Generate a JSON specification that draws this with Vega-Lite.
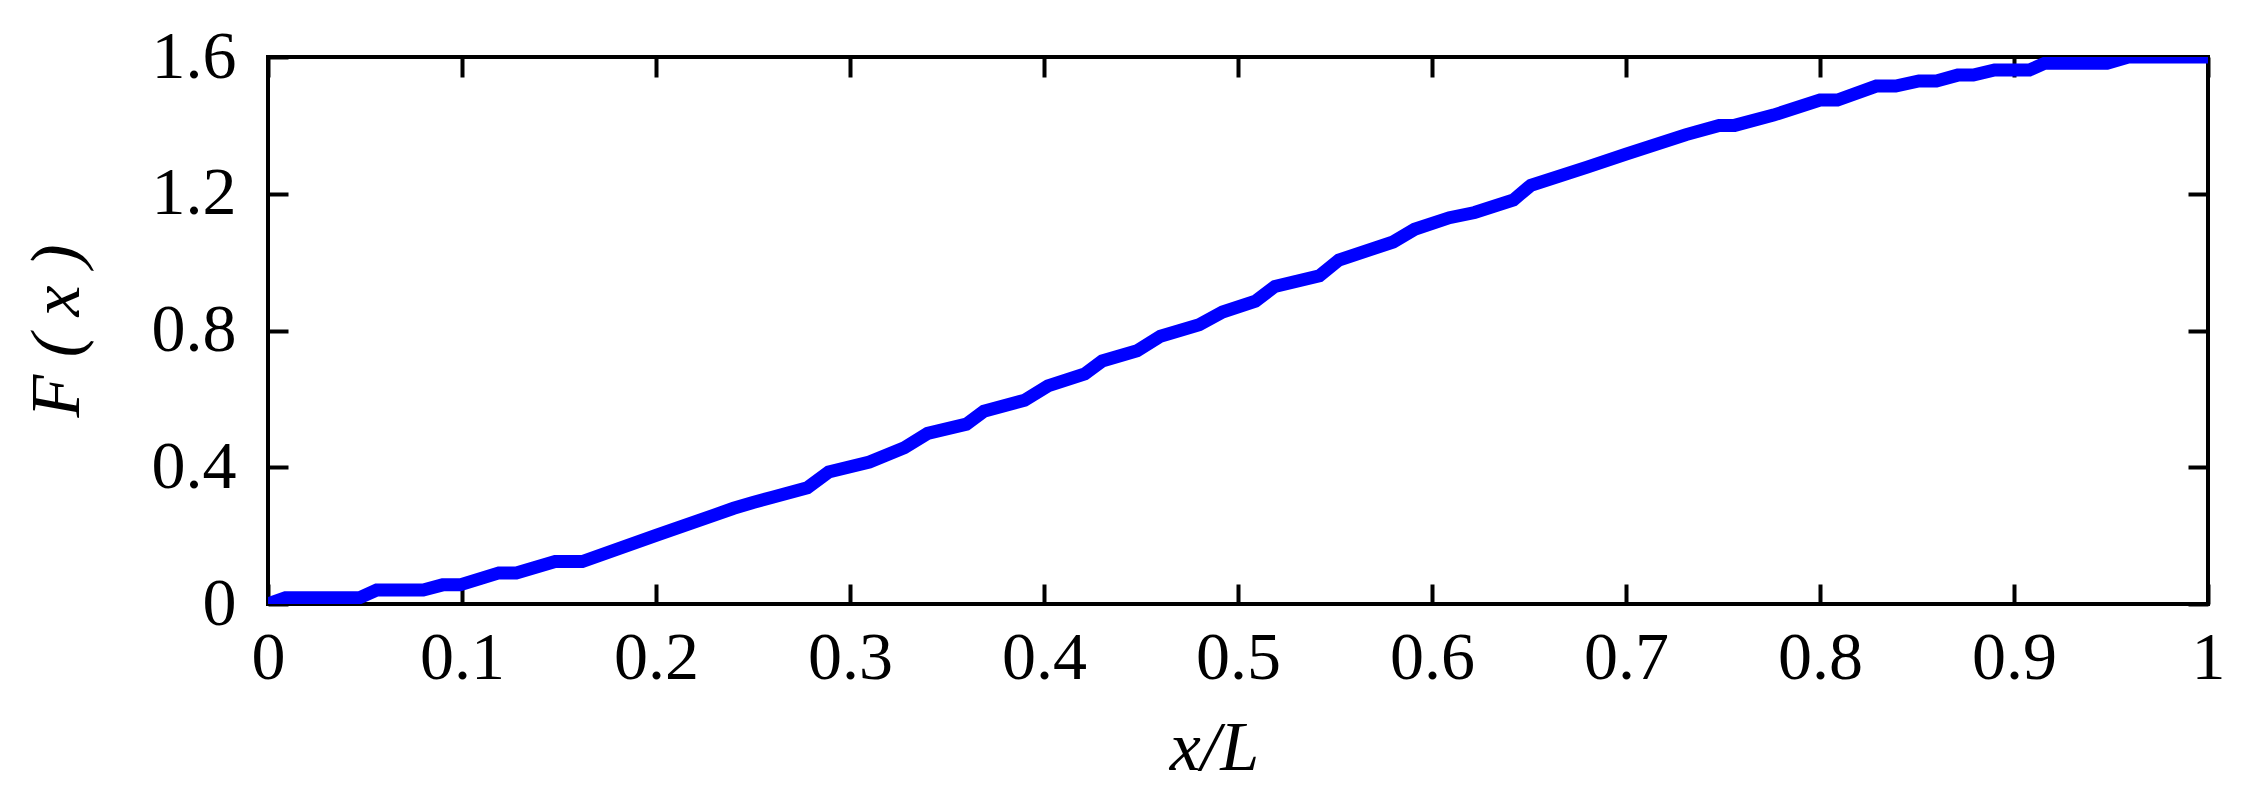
{
  "$schema": "https://vega.github.io/schema/vega-lite/v6.json",
  "autosize": {"type": "none"},
  "width": 1940,
  "height": 547,
  "padding": {"left": 268, "top": 57, "right": 39, "bottom": 204},
  "background": "white",
  "config": {
    "view": {"stroke": "black", "strokeWidth": 4},
    "axis": {
      "domain": false,
      "grid": false,
      "tickColor": "black",
      "tickWidth": 4,
      "tickSize": -20,
      "labelFlush": false,
      "labelOverlap": false,
      "labelFont": "Liberation Serif",
      "labelFontSize": 68,
      "labelColor": "black",
      "titleFont": "Liberation Serif",
      "titleFontSize": 70,
      "titleFontWeight": "normal",
      "titleFontStyle": "italic",
      "titleColor": "black"
    }
  },
  "data": {
    "values": [
      {"x": 0, "F": 0},
      {"x": 0.009, "F": 0.018},
      {"x": 0.047, "F": 0.018},
      {"x": 0.056, "F": 0.041},
      {"x": 0.08, "F": 0.041},
      {"x": 0.09, "F": 0.056},
      {"x": 0.099, "F": 0.056},
      {"x": 0.119, "F": 0.091},
      {"x": 0.128, "F": 0.091},
      {"x": 0.148, "F": 0.124},
      {"x": 0.162, "F": 0.124},
      {"x": 0.2, "F": 0.201},
      {"x": 0.23, "F": 0.26},
      {"x": 0.24, "F": 0.28},
      {"x": 0.25, "F": 0.297},
      {"x": 0.26, "F": 0.312},
      {"x": 0.278, "F": 0.34},
      {"x": 0.289, "F": 0.386},
      {"x": 0.31, "F": 0.415},
      {"x": 0.328, "F": 0.457},
      {"x": 0.34, "F": 0.499},
      {"x": 0.36, "F": 0.526},
      {"x": 0.369, "F": 0.564},
      {"x": 0.39, "F": 0.596},
      {"x": 0.402, "F": 0.638},
      {"x": 0.421, "F": 0.673},
      {"x": 0.43, "F": 0.711},
      {"x": 0.448, "F": 0.741},
      {"x": 0.46, "F": 0.783},
      {"x": 0.48, "F": 0.817},
      {"x": 0.492, "F": 0.854},
      {"x": 0.509, "F": 0.886},
      {"x": 0.519, "F": 0.929},
      {"x": 0.542, "F": 0.96},
      {"x": 0.552, "F": 1.006},
      {"x": 0.58, "F": 1.059},
      {"x": 0.591, "F": 1.096},
      {"x": 0.609, "F": 1.13},
      {"x": 0.622, "F": 1.145},
      {"x": 0.642, "F": 1.182},
      {"x": 0.651, "F": 1.225},
      {"x": 0.68, "F": 1.278},
      {"x": 0.7, "F": 1.316},
      {"x": 0.731, "F": 1.373},
      {"x": 0.748, "F": 1.4},
      {"x": 0.756, "F": 1.4},
      {"x": 0.776, "F": 1.43},
      {"x": 0.8, "F": 1.474},
      {"x": 0.809, "F": 1.474},
      {"x": 0.829, "F": 1.515},
      {"x": 0.839, "F": 1.515},
      {"x": 0.851, "F": 1.53},
      {"x": 0.86, "F": 1.53},
      {"x": 0.871, "F": 1.547},
      {"x": 0.879, "F": 1.547},
      {"x": 0.89, "F": 1.562},
      {"x": 0.908, "F": 1.562},
      {"x": 0.916, "F": 1.582},
      {"x": 0.948, "F": 1.582},
      {"x": 0.959, "F": 1.6},
      {"x": 1.0, "F": 1.6}
    ]
  },
  "layer": [
    {
      "mark": {"type": "line", "color": "#0000ff", "strokeWidth": 13, "clip": true, "strokeJoin": "miter", "strokeCap": "butt"},
      "encoding": {
        "x": {
          "field": "x", "type": "quantitative",
          "scale": {"domain": [0, 1], "nice": false, "zero": false},
          "axis": {
            "orient": "bottom",
            "values": [0, 0.1, 0.2, 0.3, 0.4, 0.5, 0.6, 0.7, 0.8, 0.9, 1],
            "format": "~g",
            "labelPadding": 40,
            "title": "x/L",
            "titleX": 946,
            "titlePadding": 22
          }
        },
        "y": {
          "field": "F", "type": "quantitative",
          "scale": {"domain": [0, 1.6], "nice": false, "zero": false},
          "axis": {
            "orient": "left",
            "values": [0, 0.4, 0.8, 1.2, 1.6],
            "format": "~g",
            "labelPadding": 52,
            "title": "F ( x )",
            "titlePadding": 58
          }
        }
      }
    },
    {
      "mark": {"type": "point", "opacity": 0},
      "encoding": {
        "x": {
          "field": "x", "type": "quantitative",
          "axis": {
            "orient": "top",
            "values": [0, 0.1, 0.2, 0.3, 0.4, 0.5, 0.6, 0.7, 0.8, 0.9, 1],
            "labels": false,
            "title": null
          }
        },
        "y": {
          "field": "F", "type": "quantitative",
          "axis": {
            "orient": "right",
            "values": [0, 0.4, 0.8, 1.2, 1.6],
            "labels": false,
            "title": null
          }
        }
      }
    }
  ],
  "resolve": {"axis": {"x": "independent", "y": "independent"}}
}
